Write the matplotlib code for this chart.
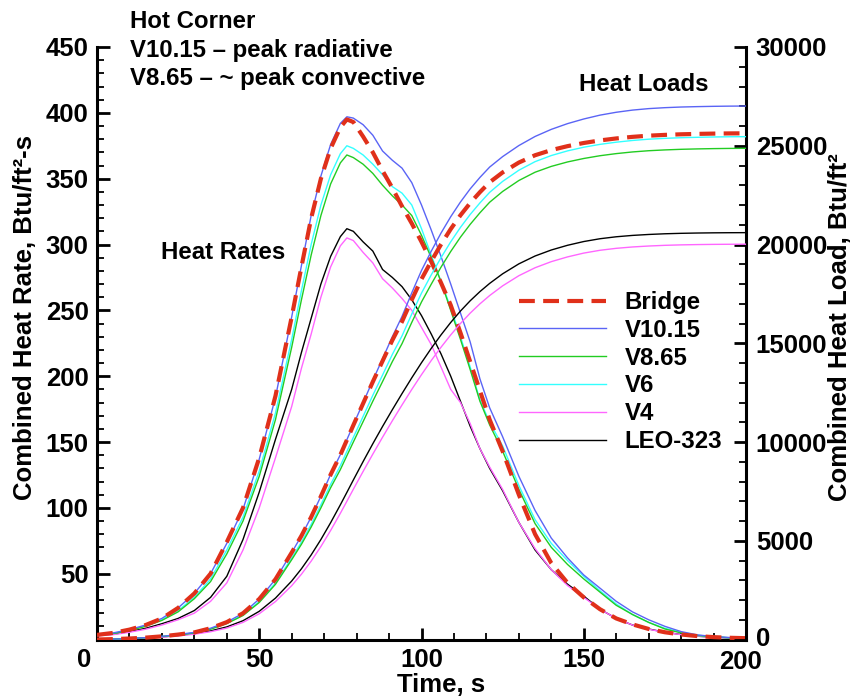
import matplotlib
matplotlib.use('Agg')
import matplotlib.pyplot as plt
import matplotlib.transforms as mtransforms
from matplotlib.ticker import MultipleLocator, FuncFormatter
from matplotlib.lines import Line2D

plt.rcParams['font.family'] = ['Liberation Sans', 'DejaVu Sans']
plt.rcParams['font.weight'] = 'bold'

# ---------------- data ----------------
time_s = [0, 5, 10, 15, 20, 25, 30, 35, 40, 45, 50, 55, 60, 63, 66, 69, 72, 75, 77, 79,
          82, 85, 88, 91, 94, 97, 100, 103, 106, 109, 112, 115, 118, 121, 125, 130, 135,
          140, 145, 150, 155, 160, 165, 170, 175, 180, 185, 190, 195, 200]

rate_bridge = [3.5, 5, 7.5, 11, 16, 24, 35, 50, 74, 100, 138, 185, 245, 283, 320, 350, 373, 389, 395, 393,
               382, 370, 356, 343, 329, 316, 302, 287, 271, 254, 233, 211, 189, 167, 143, 110, 80,
               58, 43, 32, 23, 16, 11.5, 8, 5.5, 3.8, 2.6, 1.8, 1.3, 1]
rate_v1015 = [3.5, 5, 7.5, 11, 16, 24, 35, 50, 73, 99, 137, 184, 245, 284, 322, 352, 376, 392, 397, 396,
              391, 383, 371, 364, 358, 347, 330, 311, 291, 270, 248, 226, 198, 176, 154, 124, 98,
              77, 62, 49, 39, 29, 21, 15, 10, 6, 3.5, 2.2, 1.5, 1]
rate_v865 = [3.2, 4.5, 6.8, 10, 14.5, 21, 31, 44, 65, 90, 124, 167, 222, 258, 292, 322, 346, 362, 368, 366,
             361, 354, 345, 337, 330, 322, 307, 290, 272, 250, 228, 205, 181, 163, 143, 114, 88,
             70, 57, 46, 36, 26, 19, 13, 8, 5, 3, 2, 1.3, 1]
rate_v6 = [3.3, 4.7, 7, 10.5, 15, 22, 32, 46, 68, 93, 128, 172, 228, 265, 300, 330, 353, 369, 375, 373,
           368, 361, 353, 344, 339, 330, 312, 292, 272, 252, 230, 207, 182, 165, 147, 117, 91,
           73, 60, 48, 37, 27, 19, 13, 8.5, 5.5, 3.3, 2, 1.3, 1]
rate_v4 = [2.8, 3.7, 5.5, 7.8, 11, 15, 20, 29, 43, 68, 100, 138, 177, 206, 232, 260, 283, 299, 305, 303,
           294, 286, 274, 267, 259, 250, 237, 224, 207, 190, 180, 164, 145, 131, 114, 89, 69,
           53, 41, 32, 23, 16, 11, 7.8, 5.4, 3.7, 2.5, 1.7, 1.2, 1]
rate_leo = [3, 4, 6, 8.5, 12, 16, 22, 32, 48, 76, 112, 152, 190, 218, 244, 270, 291, 306, 312, 310,
            302, 295, 281, 275, 268, 258, 246, 232, 217, 200, 181, 162, 145, 130, 113, 89, 68,
            53, 42, 33, 23, 16, 11, 8, 5.5, 3.8, 2.5, 1.8, 1.2, 1]

load_bridge = [0, 20, 50, 95, 160, 250, 360, 570, 880, 1330, 2050, 3050, 4400, 5250, 6200, 7250, 8350, 9350, 10100, 10850,
               11950, 13050, 14100, 15150, 16100, 17200, 18250, 19150, 20000, 20780, 21480, 22100, 22650, 23150, 23650, 24150, 24520,
               24780, 24980, 25140, 25270, 25370, 25450, 25510, 25550, 25580, 25600, 25615, 25625, 25630]
load_v1015 = [0, 20, 50, 95, 160, 250, 360, 570, 880, 1330, 2050, 3050, 4400, 5250, 6200, 7255, 8360, 9360, 10115, 10870,
              11985, 13120, 14215, 15325, 16360, 17550, 18685, 19660, 20575, 21405, 22150, 22815, 23395, 23920, 24450, 25010, 25470,
              25830, 26120, 26355, 26550, 26695, 26805, 26880, 26928, 26961, 26981, 26996, 27006, 27011]
load_v865 = [0, 19, 46, 88, 148, 230, 330, 522, 805, 1215, 1875, 2795, 4040, 4820, 5695, 6665, 7685, 8605, 9305, 10000,
             11030, 12065, 13060, 14065, 14980, 16055, 17090, 17990, 18850, 19645, 20370, 21020, 21605, 22140, 22685, 23240, 23660,
             23955, 24180, 24355, 24495, 24602, 24686, 24748, 24789, 24820, 24840, 24855, 24865, 24870]
load_v6 = [0, 19, 47, 90, 152, 236, 338, 535, 825, 1245, 1920, 2860, 4130, 4930, 5825, 6820, 7860, 8805, 9520, 10235,
           11295, 12365, 13390, 14430, 15375, 16480, 17540, 18460, 19330, 20135, 20865, 21520, 22105, 22640, 23195, 23760, 24195,
           24505, 24740, 24925, 25070, 25180, 25267, 25332, 25375, 25407, 25428, 25444, 25455, 25460]
load_v4 = [0, 16, 38, 71, 118, 183, 269, 393, 578, 867, 1303, 1921, 2727, 3306, 3968, 4709, 5521, 6392, 6998, 7608,
           8508, 9388, 10242, 11072, 11877, 12660, 13410, 14125, 14795, 15422, 16000, 16525, 16994, 17415, 17906, 18420, 18823,
           19132, 19372, 19565, 19707, 19806, 19875, 19923, 19958, 19981, 19996, 20006, 20012, 20015]
load_leo = [0, 18, 43, 80, 132, 203, 299, 435, 638, 952, 1428, 2096, 2962, 3581, 4283, 5064, 5916, 6822, 7448, 8078,
            9008, 9913, 10787, 11632, 12452, 13250, 14015, 14740, 15420, 16052, 16630, 17150, 17614, 18030, 18516, 19020, 19418,
            19722, 19960, 20150, 20292, 20391, 20460, 20508, 20543, 20566, 20581, 20591, 20597, 20600]

series_names = ['Bridge', 'V10.15', 'V8.65', 'V6', 'V4', 'LEO-323']

# ---------------- styles ----------------
C_RED = '#e0301a'
C_BLUE = '#5a64f5'
C_GREEN = '#22cc22'
C_CYAN = '#33ffff'
C_MAG = '#ff66ff'
C_BLK = '#000000'
FS_TXT = 17.3
FS_TICK = 18.5
FS_LAB = 18.5

fig = plt.figure(figsize=(8.56, 7.0), dpi=100)
W, H = 856.0, 700.0
x0, x1, y_top, y_bot = 97, 746, 47, 639.5
ax = fig.add_axes([x0 / W, 1 - y_bot / H, (x1 - x0) / W, (y_bot - y_top) / H])
ax2 = ax.twinx()

rates = [rate_bridge, rate_v1015, rate_v865, rate_v6, rate_v4, rate_leo]
loads = [load_bridge, load_v1015, load_v865, load_v6, load_v4, load_leo]
colors = [C_RED, C_BLUE, C_GREEN, C_CYAN, C_MAG, C_BLK]

for i in [5, 4, 3, 2, 1]:
    ax.plot(time_s, rates[i], color=colors[i], lw=1.0, zorder=3)
    ax2.plot(time_s, loads[i], color=colors[i], lw=1.0, zorder=3)
ax.plot(time_s, rate_bridge, color=C_RED, lw=3.0, dashes=(3.8, 2.0), zorder=5)
ax2.plot(time_s, load_bridge, color=C_RED, lw=3.0, dashes=(3.8, 2.0), zorder=5)

handles = []
for i, name in enumerate(series_names):
    if i == 0:
        handles.append(Line2D([], [], color=C_RED, lw=3.0, dashes=(3.8, 2.0)))
    else:
        handles.append(Line2D([], [], color=colors[i], lw=1.0))

ax.set_xlim(0, 200)
ax.set_ylim(0, 450)
ax2.set_ylim(0, 30000)

for a in (ax, ax2):
    a.spines['top'].set_visible(False)
    for s in a.spines.values():
        s.set_linewidth(2.2)
ax.spines['right'].set_visible(False)
ax2.spines['left'].set_visible(False)
ax2.spines['bottom'].set_visible(False)

ax.xaxis.set_major_locator(MultipleLocator(50))
ax.xaxis.set_minor_locator(MultipleLocator(10))
ax.yaxis.set_major_locator(MultipleLocator(50))
ax.yaxis.set_minor_locator(MultipleLocator(10))
ax2.yaxis.set_major_locator(MultipleLocator(5000))
ax2.yaxis.set_minor_locator(MultipleLocator(1000))
ax.yaxis.set_major_formatter(FuncFormatter(lambda v, p: '' if abs(v) < 1e-9 else '%g' % v))

ax.tick_params(axis='both', which='major', direction='in', length=9, width=2.0,
               labelsize=FS_TICK, pad=6, top=False, right=False)
ax.tick_params(axis='both', which='minor', direction='in', length=5, width=1.3,
               top=False, right=False)
ax2.tick_params(axis='y', which='major', direction='in', length=9, width=2.0,
                labelsize=FS_TICK, pad=7)
ax2.tick_params(axis='y', which='minor', direction='in', length=5, width=1.3)

fig.canvas.draw()
for lab in ax.get_xticklabels() + ax.get_yticklabels() + ax2.get_yticklabels():
    lab.set_fontweight('bold')
xt = ax.get_xticklabels()
for lab in xt:
    if lab.get_text() == '0':
        lab.set_transform(lab.get_transform() + mtransforms.ScaledTranslation(-13 / 100, 0, fig.dpi_scale_trans))
    if lab.get_text() == '200':
        lab.set_transform(lab.get_transform() + mtransforms.ScaledTranslation(-5 / 100, -2 / 100, fig.dpi_scale_trans))
for lab in ax2.get_yticklabels():
    if lab.get_text() == '0':
        lab.set_transform(lab.get_transform() + mtransforms.ScaledTranslation(0, 3 / 100, fig.dpi_scale_trans))

# axis titles
fig.text(441 / W, 1 - 685 / H, 'Time, s', ha='center', va='center', fontsize=FS_LAB, fontweight='bold')
fig.text(25 / W, 1 - 318 / H, 'Combined Heat Rate, Btu/ft\u00b2-s', ha='center', va='center',
         rotation=90, fontsize=FS_LAB, fontweight='bold')
fig.text(840 / W, 1 - 327 / H, 'Combined Heat Load, Btu/ft\u00b2', ha='center', va='center',
         rotation=90, fontsize=FS_LAB, fontweight='bold')

# annotations
fig.text(130 / W, 1 - 28.3 / H, 'Hot Corner', ha='left', va='baseline', fontsize=FS_TXT, fontweight='bold')
fig.text(130 / W, 1 - 56.7 / H, 'V10.15 \u2013 peak radiative', ha='left', va='baseline', fontsize=FS_TXT, fontweight='bold')
fig.text(130 / W, 1 - 85 / H, 'V8.65 \u2013 ~ peak convective', ha='left', va='baseline', fontsize=FS_TXT, fontweight='bold')
fig.text(285 / W, 1 - 259 / H, 'Heat Rates', ha='right', va='baseline', fontsize=FS_TXT, fontweight='bold')
fig.text(579 / W, 1 - 90.7 / H, 'Heat Loads', ha='left', va='baseline', fontsize=FS_TXT, fontweight='bold')

leg = ax.legend(handles, series_names, loc='upper left',
                bbox_to_anchor=(519 / W, 1 - 291 / H), bbox_transform=fig.transFigure,
                frameon=False, borderpad=0, borderaxespad=0, handlelength=3.6,
                handletextpad=0.8, labelspacing=0.2, prop={'size': FS_TXT, 'weight': 'bold'})
leg.set_zorder(10)

fig.savefig('out.png', dpi=100)
